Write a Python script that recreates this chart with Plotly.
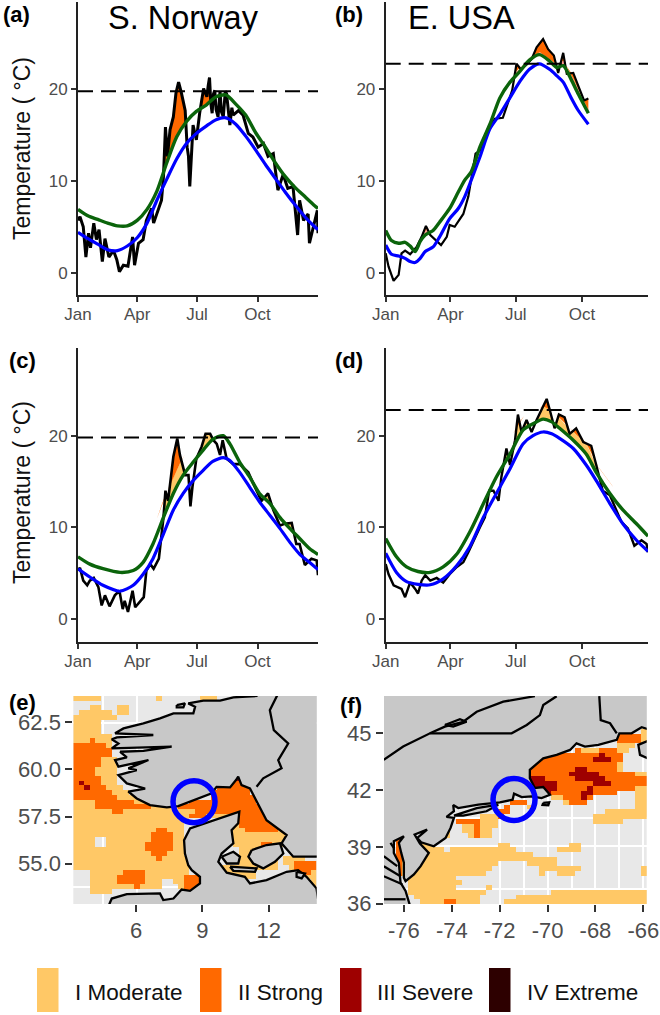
import numpy as np
import plotly.graph_objects as go

W, H = 660, 1015
MOD, STR, SEV, EXT, PINK = "#ffc866", "#ff6900", "#9e0000", "#2d0000", "#ff9a90"
FONT = "Liberation Sans"
TICK = "#4d4d4d"

MONTH_DAYS = [0, 90, 181, 273]
MONTH_LABELS = ["Jan", "Apr", "Jul", "Oct"]
Y_TICKS = [0, 10, 20]
LEGEND_LABELS = ["I Moderate", "II Strong", "III Severe", "IV Extreme"]
LEGEND_COLORS = [MOD, STR, SEV, EXT]

# ---- panel (a)
A_DAYS = [0,3,8,12,16,19,24,28,32,37,41,47,54,59,63,69,76,83,86,92,99,104,112,115,127,130,133,136,140,145,149,153,157,163,166,168,170,172,175,180,185,191,196,198,200,202,204,206,208,210,213,216,218,221,224,226,229,231,234,236,244,251,259,266,274,282,289,297,304,312,319,327,334,337,343,350,352,360,364,365]
A_OBS = [5.7,6.1,5.0,1.7,4.3,2.7,5.4,3.6,4.7,1.2,3.7,1.7,2.4,1.4,0.1,0.8,0.7,3.9,0.8,3.2,3.6,5.7,7.0,5.4,7.9,10.5,15.9,12.7,15.6,17.0,19.6,20.8,19.7,17.7,13.7,12.7,9.4,12.7,16.1,14.5,17.4,20.1,19.2,20.4,21.3,18.5,17.4,19.5,19.9,17.8,17.0,19.8,17.6,17.0,19.8,19.5,17.5,16.1,18.0,17.2,17.7,17.2,15.2,14.8,13.7,14.1,12.7,13.0,9.0,10.7,9.2,9.4,4.1,7.9,5.7,6.4,3.2,5.4,6.8,4.3]
A_CDAYS = [0,15,30,45,60,75,90,105,120,135,150,165,180,195,210,225,240,255,270,285,300,315,330,345,360,365]
A_THRESH = [6.9,6.2,5.8,5.4,5.1,5.1,5.7,6.9,8.9,12.0,14.8,16.5,17.6,18.3,19.2,19.4,18.4,17.2,15.3,13.7,12.0,10.5,9.3,8.3,7.3,7.0]
A_CLIM = [4.4,3.7,3.1,2.5,2.4,2.9,3.8,5.4,7.9,10.2,12.4,14.1,15.2,16.0,16.7,16.9,16.2,14.9,13.4,11.8,10.3,8.8,7.4,6.1,5.0,4.7]
A_MAX = 19.8

# ---- panel (b)
B_DAYS = [0,4,11,18,22,27,34,43,50,56,62,71,77,85,89,96,108,115,119,125,131,138,145,152,163,170,176,182,188,196,203,210,219,226,234,240,247,252,261,268,276,282]
B_OBS = [2.1,0.65,-0.9,-0.25,2.1,2.4,2.0,2.8,3.9,5.1,4.1,3.4,3.0,3.9,5.2,5.0,6.4,8.3,10.4,13.0,13.3,14.8,15.9,16.8,16.9,18.4,19.9,22.8,22.2,22.7,23.3,24.6,25.5,24.4,23.7,21.8,24.0,21.7,21.8,20.4,18.8,19.0]
B_CDAYS = [0,8,18,27,34,41,48,55,66,75,89,101,110,119,131,145,159,173,187,200,214,228,238,247,258,268,282]
B_THRESH = [4.6,3.5,3.2,3.3,2.9,2.3,3.4,4.1,4.6,5.5,7.0,8.8,10.1,11.0,13.7,16.2,19.1,20.8,22.0,23.2,23.8,23.1,22.4,22.6,21.1,19.5,17.4]
B_CLIM = [3.0,2.0,1.8,1.55,1.2,1.1,1.55,2.3,2.8,3.9,5.9,7.0,8.3,10.1,12.6,15.7,17.3,19.1,20.9,22.2,22.8,22.2,21.5,20.8,19.1,17.7,16.2]
B_MAX = 22.8

# ---- panel (c)
C_DAYS = [0,3,8,14,18,24,31,36,41,48,56,63,68,71,76,83,87,94,100,104,110,115,123,130,133,137,142,145,151,155,163,168,171,174,180,188,194,201,206,211,216,220,226,236,246,259,269,279,289,297,307,314,325,332,337,345,355,363,365]
C_OBS = [5.3,5.6,4.2,3.7,4.2,4.5,3.5,1.5,2.6,1.4,2.6,3.1,1.1,2.0,0.8,3.1,1.3,1.9,2.4,5.3,6.0,5.5,6.6,11.1,14.0,12.9,15.9,17.7,19.7,17.9,15.7,15.7,12.3,14.4,17.5,18.8,20.2,20.2,19.5,19.1,17.9,19.5,17.5,16.9,16.9,16.0,14.4,12.9,13.7,11.9,10.2,10.4,10.5,8.2,8.2,5.9,6.6,6.4,4.8]
C_CDAYS = [0,18,38,64,84,99,114,130,145,160,175,190,205,221,231,246,261,276,292,307,322,337,352,365]
C_THRESH = [6.8,6.0,5.5,5.1,5.3,6.2,8.2,11.1,13.7,15.7,17.1,18.4,19.6,20.0,19.1,17.1,15.5,13.7,12.6,11.1,9.9,8.8,7.7,7.05]
C_CLIM = [5.5,4.6,3.7,3.05,3.7,4.9,6.6,9.3,11.9,13.7,15.1,16.2,17.2,17.6,17.3,16.0,14.4,12.8,11.3,9.9,8.4,7.1,6.2,5.4]
C_MAX = 19.8

# ---- panel (d)
D_DAYS = [0,4,11,18,22,27,34,41,45,50,55,62,71,80,89,99,108,115,124,131,138,144,150,157,161,168,173,180,184,189,196,203,210,217,224,228,235,241,249,256,265,275,286,293,302,312,321,328,337,346,356,363,365]
D_OBS = [6.0,4.9,3.7,3.5,3.3,2.4,4.0,3.3,2.8,4.2,4.8,4.2,4.5,4.0,4.9,5.7,6.2,7.3,8.9,10.0,11.1,14.0,14.0,12.9,15.5,18.6,16.8,19.5,22.3,20.4,21.7,20.4,21.7,22.9,24.0,22.9,20.8,22.3,22.0,20.2,20.8,19.3,18.9,16.8,14.0,13.5,11.9,10.6,9.9,8.0,8.6,8.2,7.3]
D_CDAYS = [0,15,29,45,62,80,99,117,136,154,173,191,205,219,231,242,261,279,293,312,330,349,365]
D_THRESH = [8.8,6.8,5.7,5.2,5.1,5.7,7.1,9.5,12.6,15.5,18.0,20.6,21.3,21.8,21.5,20.8,19.5,18.0,16.0,13.7,11.9,10.4,9.05]
D_CLIM = [7.2,5.1,4.1,3.8,3.75,4.4,5.85,7.9,11.1,13.7,16.4,19.1,20.0,20.4,20.2,19.7,18.6,16.8,15.1,12.6,10.4,8.6,7.4]
D_MAX = 22.8

# ---- map (e): category spans per 0.25-degree row, from the top row down
E_LON0, E_LAT0 = 3.16, 63.90
E_SPANS = {
 0:[(0,5,1),(15,16,1),(23,26,1)], 2:[(3,5,1),(8,10,1)], 3:[(1,7,1),(8,10,1)], 4:[(0,8,1)], 5:[(0,5,1)],
 6:[(0,5,1)], 7:[(0,5,1)], 8:[(0,7,1)], 9:[(0,7,1),(3,4,2)], 10:[(0,6,2),(6,7,1)], 11:[(0,7,2)], 12:[(0,7,2)],
 13:[(0,5,2),(5,8,1)], 14:[(0,5,2),(5,8,1)], 15:[(0,4,2),(4,8,1)], 16:[(0,4,2),(4,8,1)], 17:[(0,5,2),(5,8,1),(29,30,3)],
 18:[(0,5,2),(1,2,3),(5,8,1),(29,31,2)], 19:[(0,6,2),(2,3,3),(6,9,1),(26,32,2)], 20:[(0,7,2),(7,10,1),(25,32,2)],
 21:[(0,8,2),(8,12,1),(25,33,2)], 22:[(0,4,1),(4,11,2),(11,14,1),(21,33,2)], 23:[(0,4,1),(4,14,2),(14,20,1),(19,34,2)],
 24:[(0,7,1),(7,9,2),(9,22,1),(22,35,2)], 25:[(0,21,1),(21,24,2),(24,30,1),(30,36,2)], 26:[(0,21,1),(30,37,2)],
 27:[(0,20,1),(29,30,1),(30,38,2)], 28:[(0,15,1),(15,17,2),(17,20,1),(29,31,1),(31,37,2),(37,39,1)],
 29:[(0,14,1),(14,18,2),(18,20,1),(29,40,1)], 30:[(0,4,1),(6,14,1),(14,18,2),(18,20,1),(29,39,1)],
 31:[(0,4,1),(6,13,1),(13,18,2),(18,20,1),(29,34,1),(34,36,2),(36,38,1)], 32:[(0,13,1),(13,18,2),(18,20,1),(30,37,1)],
 33:[(0,14,1),(14,17,2),(17,20,1),(30,37,1)], 34:[(0,15,1),(15,16,2),(16,21,1),(30,37,1),(38,42,1)],
 35:[(0,21,1),(21,22,2),(30,37,1),(38,40,1),(40,44,2)], 36:[(0,21,1),(27,37,1),(39,40,1),(40,44,2)],
 37:[(3,9,1),(9,13,2),(13,21,1),(27,33,1),(40,43,2),(43,44,1)], 38:[(3,8,1),(8,13,2),(13,20,1),(20,23,2),(27,33,1),(42,44,1)],
 39:[(3,8,1),(8,13,2),(13,16,1),(18,20,1),(20,23,2),(43,44,1)], 40:[(3,11,1),(11,12,2),(12,16,1),(19,20,1),(20,23,2),(43,44,1)],
 41:[(3,7,1),(20,22,2)],
}
# ---- map (f)
F_LON0, F_LAT0 = -76.83, 46.97
F_SPANS = {
 7:[(43,44,1)], 8:[(39,43,2),(43,44,1)], 9:[(39,43,2),(43,44,1)], 10:[(39,42,1)], 11:[(32,33,2),(33,36,1),(36,39,2),(39,41,1)],
 12:[(27,36,2),(36,37,3),(37,40,2)], 13:[(25,35,2),(35,38,3),(38,40,2)], 14:[(25,39,2),(39,40,1)],
 15:[(24,32,2),(32,34,3),(34,39,2),(39,40,1)], 16:[(24,31,2),(31,36,3),(36,42,2),(42,44,1)],
 17:[(24,27,3),(27,32,2),(32,37,3),(37,44,2)], 18:[(24,29,3),(29,35,2),(35,38,3),(38,44,2)],
 19:[(25,29,3),(29,34,2),(34,35,3),(35,42,2),(42,44,1)], 20:[(25,28,3),(28,33,2),(33,35,3),(35,39,2),(42,44,1)],
 21:[(28,30,1),(30,33,2),(33,34,3),(34,35,2),(42,44,1)], 22:[(21,24,2),(30,31,1),(31,34,2),(42,44,1)],
 23:[(20,21,2),(24,25,1),(42,44,1)], 24:[(19,21,2),(37,44,1)], 25:[(16,19,1),(19,20,2),(35,44,1)],
 26:[(12,16,2),(16,19,1),(35,40,1)], 27:[(13,15,1),(15,16,2),(16,19,1)], 28:[(10,11,1),(13,15,1),(15,16,2),(16,18,1)],
 29:[(10,11,1),(14,15,1),(15,16,2),(16,18,1)], 30:[(2,3,2),(6,8,1)], 31:[(2,3,2),(6,8,1),(19,21,1),(31,33,1)],
 32:[(2,3,2),(6,10,1),(11,22,1),(29,33,1)], 33:[(2,3,2),(3,4,1),(5,25,1)], 34:[(2,3,2),(3,4,1),(5,29,1)],
 35:[(2,3,2),(3,4,1),(5,19,1),(24,29,1)], 36:[(2,3,2),(3,4,1),(5,18,1),(26,33,1),(43,44,1)],
 37:[(2,3,2),(3,4,1),(5,17,1),(26,27,1),(29,32,1),(43,44,1)], 38:[(4,12,1)], 39:[(4,13,1)], 40:[(4,12,1),(17,18,1)],
 41:[(4,17,1),(28,44,1)], 42:[(5,16,1),(22,44,1)], 43:[(6,10,1),(10,12,2),(12,16,1),(20,44,1)],
}
MAP_CELL = 0.25
MAP_CELLS = 44

# ---- land outlines, degrees
E_LAND = [
 ([11.53,11.45,10.40,9.80,9.04,8.36,8.67,8.59,7.69,7.08,6.33,5.43,5.05,6.78,5.13,4.90,5.20,4.90,7.61,6.33,5.28,5.58,5.05,5.20,6.56,5.65,6.03,5.20,5.58,6.41,5.65,6.03,6.63,7.39,7.91,8.59,9.42,9.64,10.25,10.52,10.62,10.77,11.15,11.90,12.81,12.58,13.11,14.31,14.31],
  [64.04,63.90,63.83,63.65,63.65,63.51,63.33,62.98,62.98,62.71,62.45,62.18,61.92,61.83,61.70,61.60,61.38,61.12,61.21,60.99,60.94,60.64,60.50,60.15,60.50,60.06,59.97,59.70,59.26,58.99,58.82,58.46,58.11,57.99,58.06,58.38,58.73,59.08,59.05,59.44,59.62,59.17,58.99,57.31,56.52,56.08,55.37,55.37,64.04]),
 ([4.67,4.90,5.58,7.08,7.23,7.69,8.06,8.44,8.89,8.89,8.52,8.36,8.21,8.17,8.44,8.89,9.49,10.25,10.67,10.62,10.32,10.40,9.87,9.72,10.10,10.92,11.15,11.90,12.81,13.33,13.71,14.16,14.31],
  [52.53,53.15,53.38,53.42,53.07,53.15,53.63,53.56,53.95,54.30,54.66,54.92,55.54,56.25,56.87,57.05,57.31,57.58,57.76,57.14,56.78,56.08,55.54,55.10,54.52,54.30,53.95,54.13,54.57,54.66,54.30,53.69,52.53]),
 ([9.87,10.40,10.70,10.62,10.10],[55.37,55.63,55.37,55.01,55.01]),
 ([11.23,11.90,12.51,12.66,12.28,11.75,11.30,11.08],[55.72,55.99,56.08,55.54,55.10,54.75,55.01,55.37]),
 ([10.25,11.45,11.38,10.40],[54.84,54.75,54.57,54.62]),
 ([13.26,13.64,13.49,13.26],[54.57,54.48,54.22,54.30]),
 ([7.84,8.21,8.14,7.84],[63.42,63.51,63.30,63.30]),
]
E_LINES = [([12.43,12.05,12.23,12.88,12.43,12.58,11.75,11.45],[64.04,63.15,62.09,61.38,60.50,60.06,59.53,59.08])]
F_LAND = [
 ([-75.72,-75.93,-76.14,-76.21,-76.42,-76.42,-76.00,-76.21,-76.11,-76.00,-76.00,-75.93,-75.58,-75.30,-74.96,-75.33,-75.55,-75.03,-75.44,-75.28,-74.75,-74.26,-74.05,-73.91,-74.22,-73.91,-73.94,-73.73,-72.89,-71.99,-71.46,-71.40,-71.08,-70.67,-70.25,-69.90,-70.18,-70.53,-70.74,-70.74,-70.18,-69.62,-69.06,-68.79,-68.44,-67.88,-67.11,-67.00,-66.49,-66.07,-65.72,-65.72,-77.00,-77.00],
  [35.79,36.67,37.11,38.16,38.68,39.30,39.56,39.21,38.68,38.16,37.37,37.19,37.54,37.98,38.68,39.17,39.65,39.91,39.47,39.24,39.03,39.47,40.00,40.53,40.58,40.88,41.21,41.05,41.23,41.35,41.49,41.81,41.63,41.67,41.58,41.75,42.16,42.11,42.63,43.07,43.68,43.86,44.12,44.47,44.30,44.39,44.65,45.00,45.00,45.32,45.18,47.11,47.11,35.79]),
 ([-65.72,-66.21,-66.14,-65.72],[44.65,44.39,43.86,43.63]),
 ([-73.91,-72.96,-72.06,-72.55,-73.52],[40.65,41.05,41.23,40.88,40.65]),
 ([-70.18,-69.93,-69.97,-70.21],[41.32,41.35,41.19,41.21]),
 ([-74.29,-73.66,-73.38,-73.94],[45.44,45.74,45.61,45.35]),
]
F_LINES = [
 ([-76.84,-76.03,-74.91,-71.50,-70.87,-70.32,-70.18,-69.62],[43.60,44.30,45.00,45.00,45.44,45.96,46.49,46.96]),
 ([-74.91,-74.29,-73.52,-72.96,-71.85,-70.53],[45.00,45.35,45.61,46.14,46.67,46.96]),
 ([-67.84,-67.78,-67.39,-67.11],[46.96,45.70,45.53,45.00]),
 ([-76.84,-76.28],[38.51,37.98]), ([-76.84,-76.14],[37.98,37.45]), ([-76.84,-76.07],[37.45,37.02]),
 ([-76.56,-76.42],[39.21,38.95]), ([-76.84,-75.93],[36.23,36.23]),
]
E_SITE = (8.62, 58.29)
F_SITE = (-71.40, 41.50)
E_XTICKS, E_YTICKS = [6, 9, 12], [55.0, 57.5, 60.0, 62.5]
F_XTICKS, F_YTICKS = [-76, -74, -72, -70, -68, -66], [36, 39, 42, 45]
F_XLABELS = ["-76", "-74", "-72", "-70", "-68", "-66"]
E_GRID_X, E_GRID_Y = [4.52, 6.06], [53.77, 62.45]
F_GRID_X, F_GRID_Y = [-72, -71, -70, -69, -68, -67, -66], [36.75, 39.05, 40.55]

fig = go.Figure()

def dom_x(a, b): return [a / W, b / W]
def dom_y(top, bot): return [1 - bot / H, 1 - top / H]

def add_axes(i, xd, yd, xaxis, yaxis):
    s = "" if i == 1 else str(i)
    xaxis = dict(domain=dom_x(*xd), anchor="y" + s, automargin=False, ticklabeloverflow="allow", **xaxis)
    yaxis = dict(domain=dom_y(*yd), anchor="x" + s, automargin=False, ticklabeloverflow="allow", **yaxis)
    fig.update_layout(**{"xaxis" + s: xaxis, "yaxis" + s: yaxis})
    return "x" + s, "y" + s

def time_panel(i, xd, yd, end, obs_d, obs, cd, thresh, clim, maxv, k, low_color, obs_width):
    ax = dict(range=[0, 365], tickvals=MONTH_DAYS, ticktext=MONTH_LABELS, showgrid=False, zeroline=False,
              showline=True, linecolor="#222222", linewidth=2, ticks="outside", ticklen=5, tickwidth=1.5,
              tickcolor="#333333", tickfont=dict(family=FONT, size=17, color=TICK), ticklabelstandoff=-2)
    ay = dict(range=[-2.45, 29.55], tickvals=Y_TICKS, showgrid=False, zeroline=False,
              showline=True, linecolor="#222222", linewidth=2, ticks="outside", ticklen=5, tickwidth=1.5,
              tickcolor="#333333", tickfont=dict(family=FONT, size=17, color=TICK))
    xa, ya = add_axes(i, xd, yd, ax, ay)
    fine = np.arange(0, end + 0.25, 0.25)
    o = np.interp(fine, obs_d, obs)
    t = np.interp(fine, cd, thresh)
    c = np.interp(fine, cd, clim)
    edge = t + k * (t - c)
    low_top = np.maximum(np.minimum(o, edge), t)
    high_top = np.maximum(o, edge)
    common = dict(x=fine, xaxis=xa, yaxis=ya, mode="lines", line=dict(width=0), hoverinfo="skip", showlegend=False)
    if k > 0:
        fig.add_trace(go.Scatter(y=t, **common))
        fig.add_trace(go.Scatter(y=low_top, fill="tonexty", fillcolor=low_color, **common))
    fig.add_trace(go.Scatter(y=edge, **common))
    fig.add_trace(go.Scatter(y=high_top, fill="tonexty", fillcolor=STR, **common))
    fig.add_trace(go.Scatter(x=obs_d, y=obs, xaxis=xa, yaxis=ya, mode="lines",
                             line=dict(color="#000000", width=obs_width), showlegend=False))
    fig.add_trace(go.Scatter(x=cd, y=clim, xaxis=xa, yaxis=ya, mode="lines",
                             line=dict(color="#0000ff", width=3.2, shape="spline", smoothing=0.7), showlegend=False))
    fig.add_trace(go.Scatter(x=cd, y=thresh, xaxis=xa, yaxis=ya, mode="lines",
                             line=dict(color="#0b640b", width=3.4, shape="spline", smoothing=0.7), showlegend=False))
    fig.add_trace(go.Scatter(x=[0, 365], y=[maxv, maxv], xaxis=xa, yaxis=ya, mode="lines",
                             line=dict(color="#000000", width=2, dash="15px,8px"), showlegend=False))

def map_panel(i, xd, yd, xr, yr, spans, lon0, lat0, land, lines, site, xt, yt, gx, gy, xlabels=None):
    common = dict(showgrid=False, zeroline=False, showline=False, ticks="outside", ticklen=7, tickwidth=2,
                  tickcolor="#333333", tickfont=dict(family=FONT, size=22, color=TICK))
    ax = dict(range=xr, tickvals=xt, minor=dict(tickvals=gx, showgrid=True, gridcolor="white", gridwidth=2, ticks=""), **common)
    if xlabels:
        ax["ticktext"] = xlabels
    ay = dict(range=yr, tickvals=yt, minor=dict(tickvals=gy, showgrid=True, gridcolor="white", gridwidth=2, ticks=""), **common)
    if i == 5:
        ay["tickformat"] = ".1f"
    xa, ya = add_axes(i, xd, yd, ax, ay)
    fig.add_shape(type="rect", xref=xa + " domain", yref=ya + " domain", x0=0, x1=1, y0=0, y1=1,
                  fillcolor="#e8e8e8", line_width=0, layer="below")
    z = np.full((MAP_CELLS, MAP_CELLS), np.nan)
    for r, row in spans.items():
        for a, b, v in row:
            z[r, a:b] = v
    lons = [lon0 + MAP_CELL * (c + 0.5) for c in range(MAP_CELLS)]
    lats = [lat0 - MAP_CELL * (r + 0.5) for r in range(MAP_CELLS)]
    scale = [[0, MOD], [0.25, MOD], [0.25, STR], [0.5, STR], [0.5, SEV], [0.75, SEV], [0.75, EXT], [1, EXT]]
    fig.add_trace(go.Heatmap(x=lons, y=lats, z=z, zmin=0.5, zmax=4.5, colorscale=scale, showscale=False,
                             xaxis=xa, yaxis=ya, hoverinfo="skip"))
    for lo, la in land:
        fig.add_trace(go.Scatter(x=lo + lo[:1], y=la + la[:1], xaxis=xa, yaxis=ya, mode="lines", fill="toself",
                                 fillcolor="#c8c8c8", line=dict(color="#000000", width=2.3), showlegend=False, hoverinfo="skip"))
    for lo, la in lines:
        fig.add_trace(go.Scatter(x=lo, y=la, xaxis=xa, yaxis=ya, mode="lines",
                                 line=dict(color="#000000", width=2.3), showlegend=False, hoverinfo="skip"))
    fig.add_trace(go.Scatter(x=[site[0]], y=[site[1]], xaxis=xa, yaxis=ya, mode="markers",
                             marker=dict(symbol="circle-open", size=42, color="#0000ff", line=dict(color="#0000ff", width=5.5)),
                             showlegend=False, hoverinfo="skip"))

time_panel(1, (78, 318), (2, 295), 365, A_DAYS, A_OBS, A_CDAYS, A_THRESH, A_CLIM, A_MAX, 0, MOD, 3)
time_panel(2, (385.7, 648), (2, 295), 282, B_DAYS, B_OBS, B_CDAYS, B_THRESH, B_CLIM, B_MAX, 0.3, PINK, 2.2)
time_panel(3, (78, 318), (348, 641.7), 365, C_DAYS, C_OBS, C_CDAYS, C_THRESH, C_CLIM, C_MAX, 1, MOD, 2.6)
time_panel(4, (385.7, 648), (348, 641.7), 365, D_DAYS, D_OBS, D_CDAYS, D_THRESH, D_CLIM, D_MAX, 1, MOD, 2.4)
map_panel(5, (73.3, 316.7), (696, 904), [3.16, 14.17], [52.86, 63.90], E_SPANS, E_LON0, E_LAT0, E_LAND, E_LINES, E_SITE, E_XTICKS, E_YTICKS, E_GRID_X, E_GRID_Y)
map_panel(6, (384, 646.7), (696, 904), [-76.83, -65.86], [35.98, 46.97], F_SPANS, F_LON0, F_LAT0, F_LAND, F_LINES, F_SITE, F_XTICKS, F_YTICKS, F_GRID_X, F_GRID_Y, F_XLABELS)

def text(s, px, py, size, bold=False, color="#000000", angle=0, anchor="left"):
    fig.add_annotation(text=("<b>%s</b>" % s) if bold else s, x=px / W, y=1 - py / H, xref="paper", yref="paper",
                       xanchor=anchor, yanchor="middle", showarrow=False, textangle=angle,
                       font=dict(family=FONT, size=size, color=color))

for lab, px, py in [("(a)", 1, 14), ("(b)", 333, 14), ("(c)", 7, 360), ("(d)", 333, 360), ("(e)", 7, 702), ("(f)", 338, 705)]:
    text(lab, px, py, 22, bold=True)
text("S. Norway", 183, 18, 32.5, anchor="center")
text("E. USA", 462, 18, 32.5, anchor="center")
text("Temperature ( °C)", 22, 149, 23, angle=-90, color="#111111", anchor="center")
text("Temperature ( °C)", 22, 493, 23, angle=-90, color="#111111", anchor="center")

for lab, col, x0, tx in zip(LEGEND_LABELS, LEGEND_COLORS, [37, 200, 340, 489], [72.5, 235.5, 375, 524.5]):
    fig.add_shape(type="rect", xref="paper", yref="paper", x0=x0 / W, x1=(x0 + 21.5) / W, y0=1 - 1012 / H, y1=1 - 968 / H,
                  fillcolor=col, line_width=0)
    text(lab, tx, 992, 22.5, color="#111111")

fig.update_layout(width=W, height=H, margin=dict(l=0, r=0, t=0, b=0, autoexpand=False), paper_bgcolor="white", plot_bgcolor="white",
                  showlegend=False, hovermode=False)
fig.write_html("out.html", config={"displayModeBar": False},
               post_script="document.body.style.margin='0';document.body.style.overflow='hidden';")
